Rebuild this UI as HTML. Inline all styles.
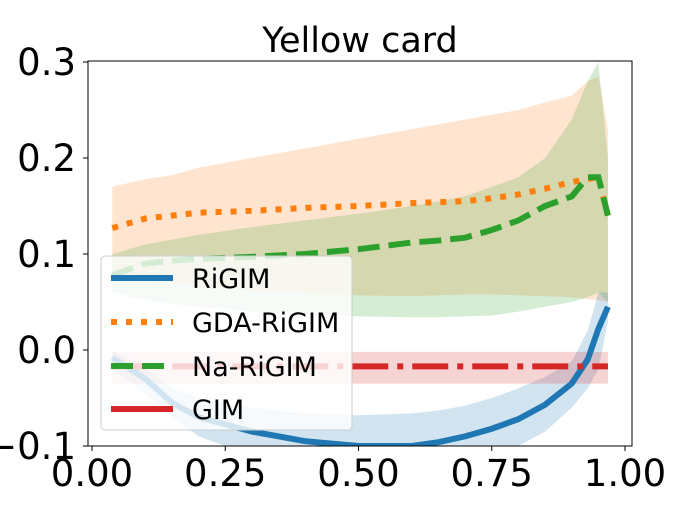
<!DOCTYPE html>
<html><head><meta charset="utf-8"><style>
body{margin:0;background:#fff;}
svg text{font-family:"DejaVu Sans","Liberation Sans",sans-serif;}
</style></head><body>
<svg id="chart" width="700" height="500" xmlns="http://www.w3.org/2000/svg">
<defs><clipPath id="clip"><rect x="88" y="61" width="544" height="385"/></clipPath></defs>
<text x="360" y="52" font-size="35" text-anchor="middle">Yellow card</text>
<g id="bands" clip-path="url(#clip)"></g>
<g id="lines" clip-path="url(#clip)"></g>
<rect x="88" y="61" width="544" height="385" fill="none" stroke="#000" stroke-width="1"/>
<g id="xticks"></g><g id="yticks"></g>
<g>
<rect x="101" y="256" width="251" height="174" rx="4" fill="#fff" fill-opacity="0.8" stroke="#ccc"/>
<g><line x1="111" y1="278" x2="173" y2="278" stroke="#1f77b4" stroke-width="6"/><text x="192" y="288" font-size="27">RiGIM</text></g>
<g><line x1="111" y1="322" x2="173" y2="322" stroke="#ff7f0e" stroke-width="6" stroke-dasharray="6,9"/><text x="192" y="332" font-size="27">GDA-RiGIM</text></g>
<g><line x1="111" y1="366" x2="173" y2="366" stroke="#2ca02c" stroke-width="6" stroke-dasharray="22,9"/><text x="192" y="376" font-size="27">Na-RiGIM</text></g>
<g><line x1="111" y1="409" x2="173" y2="409" stroke="#d62728" stroke-width="6"/><text x="192" y="419" font-size="27">GIM</text></g>
</g>
</svg>
<script>
const xTicks=[0,0.25,0.5,0.75,1.0];
const xTickLabels=["0.00","0.25","0.50","0.75","1.00"];
const yTicks=[-0.1,0,0.1,0.2,0.3];
const yTickLabels=["\u22120.1","0.0","0.1","0.2","0.3"];
const xs=[0.038,0.1,0.15,0.2,0.3,0.4,0.5,0.6,0.65,0.7,0.75,0.8,0.85,0.9,0.93,0.95,0.968];
const rigim=[-0.008,-0.03,-0.055,-0.07,-0.085,-0.095,-0.1,-0.1,-0.096,-0.09,-0.082,-0.072,-0.057,-0.035,-0.01,0.022,0.045];
const rigimHi=[0.0,-0.02,-0.04,-0.05,-0.06,-0.066,-0.068,-0.066,-0.063,-0.058,-0.05,-0.04,-0.028,-0.012,0.02,0.06,0.06];
const rigimLo=[-0.02,-0.045,-0.07,-0.09,-0.11,-0.125,-0.135,-0.135,-0.13,-0.122,-0.112,-0.1,-0.085,-0.06,-0.04,-0.02,0.03];
const gda=[0.127,0.137,0.14,0.143,0.145,0.148,0.15,0.153,0.154,0.155,0.158,0.162,0.168,0.175,0.178,0.18,0.14];
const gdaHi=[0.17,0.178,0.182,0.19,0.2,0.21,0.22,0.23,0.235,0.24,0.245,0.25,0.258,0.265,0.28,0.285,0.23];
const gdaLo=[0.075,0.072,0.07,0.066,0.062,0.059,0.057,0.056,0.057,0.058,0.058,0.057,0.056,0.055,0.053,0.052,0.05];
const na=[0.078,0.09,0.093,0.095,0.097,0.1,0.105,0.112,0.114,0.117,0.125,0.135,0.15,0.16,0.18,0.18,0.14];
const naHi=[0.1,0.11,0.115,0.12,0.128,0.135,0.142,0.15,0.155,0.16,0.17,0.18,0.2,0.24,0.28,0.3,0.2];
const naLo=[0.06,0.052,0.048,0.045,0.04,0.037,0.035,0.034,0.034,0.035,0.036,0.04,0.045,0.05,0.055,0.06,0.05];
const gimXs=[0.038,0.968];
const gim=[-0.017,-0.017];
const gimHi=[-0.002,-0.002];
const gimLo=[-0.035,-0.035];
const X=v=>92+v*533;
const Y=v=>446-(v+0.1)*960;
const NS="http://www.w3.org/2000/svg";
function mk(tag,attrs,parent){const e=document.createElementNS(NS,tag);for(const k in attrs)e.setAttribute(k,attrs[k]);parent.appendChild(e);return e;}
const bands=document.getElementById('bands'),lines=document.getElementById('lines');
function band(xv,hi,lo,color,op,name){
  let d='M'+xv.map((x,i)=>X(x)+','+Y(hi[i])).join(' L');
  for(let i=xv.length-1;i>=0;i--)d+=' L'+X(xv[i])+','+Y(lo[i]);
  const p=mk('path',{d:d+'Z',fill:color,'fill-opacity':op},bands);
  
  
}
function line(xv,yv,color,dash,name){
  const p=mk('polyline',{points:xv.map((x,i)=>X(x)+','+Y(yv[i])).join(' '),fill:'none',stroke:color,'stroke-width':6,'stroke-dasharray':dash},lines);
  
  
}
band(xs,gdaHi,gdaLo,'#ff7f0e',0.2,'gda-rigim-band');
band(xs,naHi,naLo,'#2ca02c',0.2,'na-rigim-band');
band(xs,rigimHi,rigimLo,'#1f77b4',0.2,'rigim-band');
band(gimXs,gimHi,gimLo,'#d62728',0.2,'gim-band');
line(xs,rigim,'#1f77b4','none','rigim-line');
line(xs,gda,'#ff7f0e','6,9','gda-rigim-line');
line(xs,na,'#2ca02c','22,9','na-rigim-line');
line(gimXs,gim,'#d62728','36,9,6,9','gim-line');
const xt=document.getElementById('xticks'),yt=document.getElementById('yticks');
xTicks.forEach((v,i)=>{
  const l=mk('line',{x1:X(v),x2:X(v),y1:446,y2:451,stroke:'#000'},xt);
  
  
  const t=mk('text',{x:X(v),y:486,'font-size':37,'text-anchor':'middle'},xt);t.textContent=xTickLabels[i];
  
  
});
yTicks.forEach((v,i)=>{
  const l=mk('line',{x1:83,x2:88,y1:Y(v),y2:Y(v),stroke:'#000'},yt);
  
  
  const t=mk('text',{x:76,y:Y(v)+13,'font-size':37,'text-anchor':'end'},yt);t.textContent=yTickLabels[i];
  
  
});
</script>
</body></html>
